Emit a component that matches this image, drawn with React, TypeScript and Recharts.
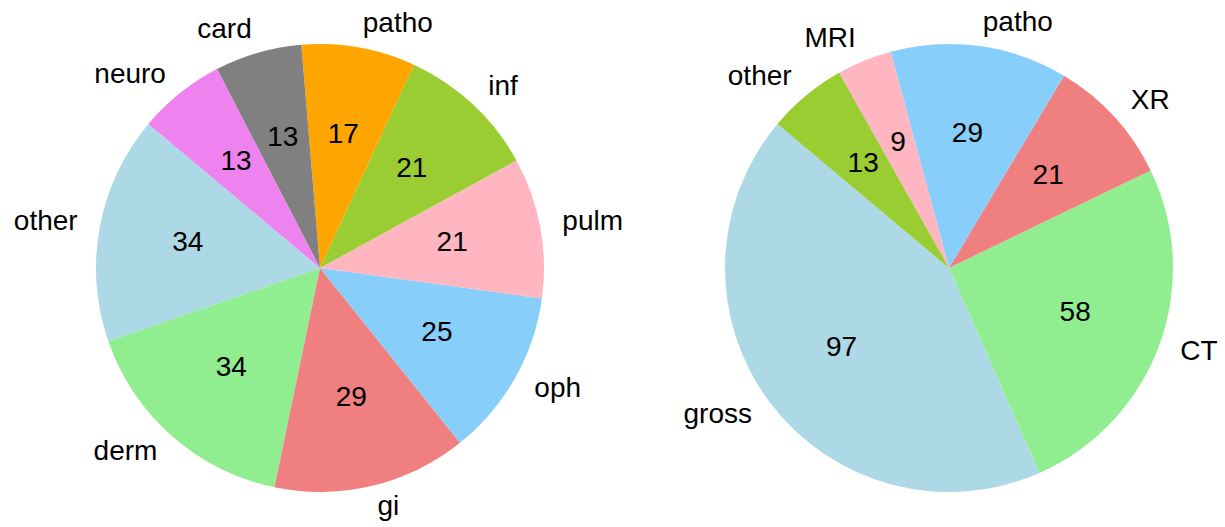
import React from 'react';
import { PieChart, Pie, Cell } from 'recharts';

const leftNames = ['other', 'derm', 'gi', 'oph', 'pulm', 'inf', 'patho', 'card', 'neuro'];
const leftValues = [34, 34, 29, 25, 21, 21, 17, 13, 13];
const leftColors = ['#ADD8E6', '#90EE90', '#F08080', '#87CEFA', '#FFB6C1', '#9ACD32', '#FFA500', '#808080', '#EE82EE'];

const rightNames = ['gross', 'CT', 'XR', 'patho', 'MRI', 'other'];
const rightValues = [97, 58, 21, 29, 9, 13];
const rightColors = ['#ADD8E6', '#90EE90', '#F08080', '#87CEFA', '#FFB6C1', '#9ACD32'];

const leftData = leftNames.map((name, i) => ({ name, value: leftValues[i] }));
const rightData = rightNames.map((name, i) => ({ name, value: rightValues[i] }));

const RADIAN = Math.PI / 180;
const FONT = '"Liberation Sans", Arial, Helvetica, sans-serif';
const FS = 28;
const SHIFT = -2.5;

const renderLabel = (props: any) => {
  const { cx, cy, midAngle, outerRadius, payload, index } = props;
  const name = payload?.name ?? props.name;
  const value = payload?.value ?? props.value;
  const cos = Math.cos(-midAngle * RADIAN);
  const sin = Math.sin(-midAngle * RADIAN);
  const lx = cx + outerRadius * 1.1 * cos;
  const ly = cy + outerRadius * 1.1 * sin + SHIFT;
  const vx = cx + outerRadius * 0.6 * cos;
  const vy = cy + outerRadius * 0.6 * sin + SHIFT;
  return (
    <g key={`lbl-${index}`}>
      <text x={lx} y={ly} fill="#000" fontSize={FS} fontFamily={FONT}
        textAnchor={cos >= 0 ? 'start' : 'end'} dominantBaseline="central">{name}</text>
      <text x={vx} y={vy} fill="#000" fontSize={FS} fontFamily={FONT}
        textAnchor="middle" dominantBaseline="central">{value}</text>
    </g>
  );
};

export default function App() {
  return (
    <div style={{ position: 'absolute', left: 0, top: 0, width: 1225, height: 527, background: '#fff' }}>
      <PieChart width={1225} height={527} margin={{ top: 0, right: 0, bottom: 0, left: 0 }}>
        <Pie data={leftData} dataKey="value" nameKey="name" cx={320} cy={268} outerRadius={224}
          startAngle={140} endAngle={500} stroke="none" labelLine={false} label={renderLabel}
          isAnimationActive={false}>
          {leftData.map((d, i) => <Cell key={d.name} fill={leftColors[i]} stroke="none" />)}
        </Pie>
        <Pie data={rightData} dataKey="value" nameKey="name" cx={949} cy={268} outerRadius={224}
          startAngle={140} endAngle={500} stroke="none" labelLine={false} label={renderLabel}
          isAnimationActive={false}>
          {rightData.map((d, i) => <Cell key={d.name} fill={rightColors[i]} stroke="none" />)}
        </Pie>
      </PieChart>
    </div>
  );
}
